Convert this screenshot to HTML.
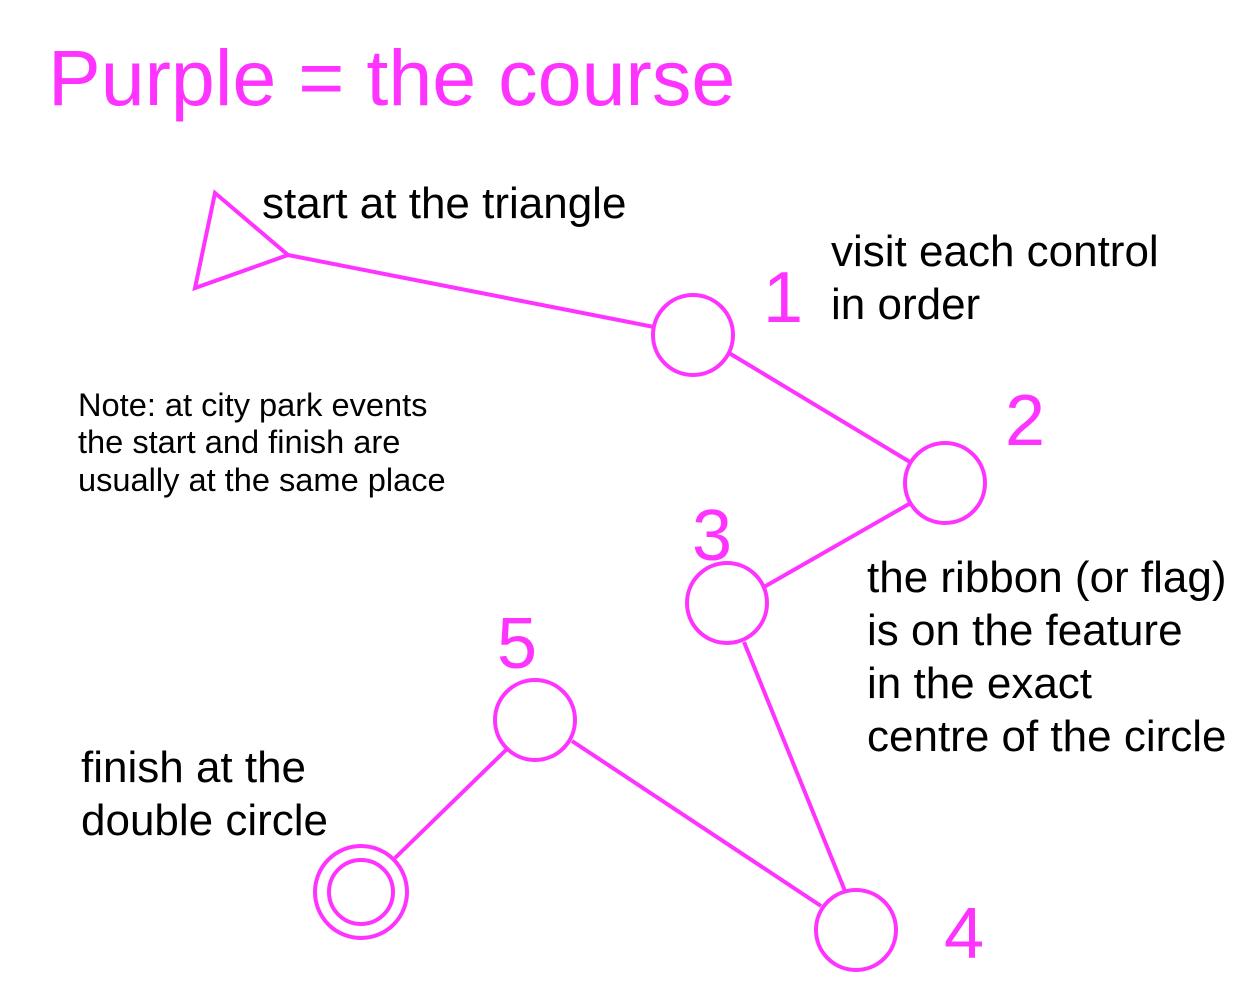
<!DOCTYPE html>
<html><head><meta charset="utf-8"><style>
html,body{margin:0;padding:0;background:#fff;}
svg{display:block;}
text{font-family:"Liberation Sans",Arial,sans-serif;}
</style></head><body>
<svg width="1250" height="1001" viewBox="0 0 1250 1001" xmlns="http://www.w3.org/2000/svg">
<g fill="none" stroke="#ff33ff" stroke-width="4">
<polygon points="215,193 288,255 195,288"/>
<line x1="288" y1="255" x2="654" y2="327"/>
<circle cx="693" cy="335" r="40"/>
<line x1="729" y1="353" x2="910" y2="462"/>
<circle cx="945" cy="483" r="40"/>
<line x1="909" y1="504" x2="764" y2="587"/>
<circle cx="727" cy="603" r="40"/>
<line x1="744" y1="642" x2="845" y2="891"/>
<circle cx="856" cy="930" r="40"/>
<line x1="821" y1="906" x2="572" y2="741"/>
<circle cx="535" cy="720" r="40"/>
<line x1="507" y1="749" x2="395" y2="858"/>
<circle cx="361" cy="892" r="46"/>
<circle cx="361" cy="892" r="32"/>
</g>
<g fill="#ff33ff">
<text x="48" y="105" font-size="79">Purple = the course</text>
<text x="763" y="322" font-size="72">1</text>
<text x="1005" y="445" font-size="72">2</text>
<text x="692" y="560" font-size="72">3</text>
<text x="497" y="668" font-size="72">5</text>
<text x="944" y="958" font-size="72">4</text>
</g>
<g fill="#000" font-size="44">
<text x="262" y="218">start at the triangle</text>
<text x="831" y="266">visit each control</text>
<text x="831" y="319">in order</text>
<text x="867" y="592">the ribbon (or flag)</text>
<text x="867" y="645">is on the feature</text>
<text x="867" y="698">in the exact</text>
<text x="867" y="751">centre of the circle</text>
<text x="81" y="782">finish at the</text>
<text x="81" y="835">double circle</text>
</g>
<g fill="#000" font-size="32.6">
<text x="78" y="416">Note: at city park events</text>
<text x="78" y="453">the start and finish are</text>
<text x="78" y="491">usually at the same place</text>
</g>
</svg>
</body></html>
